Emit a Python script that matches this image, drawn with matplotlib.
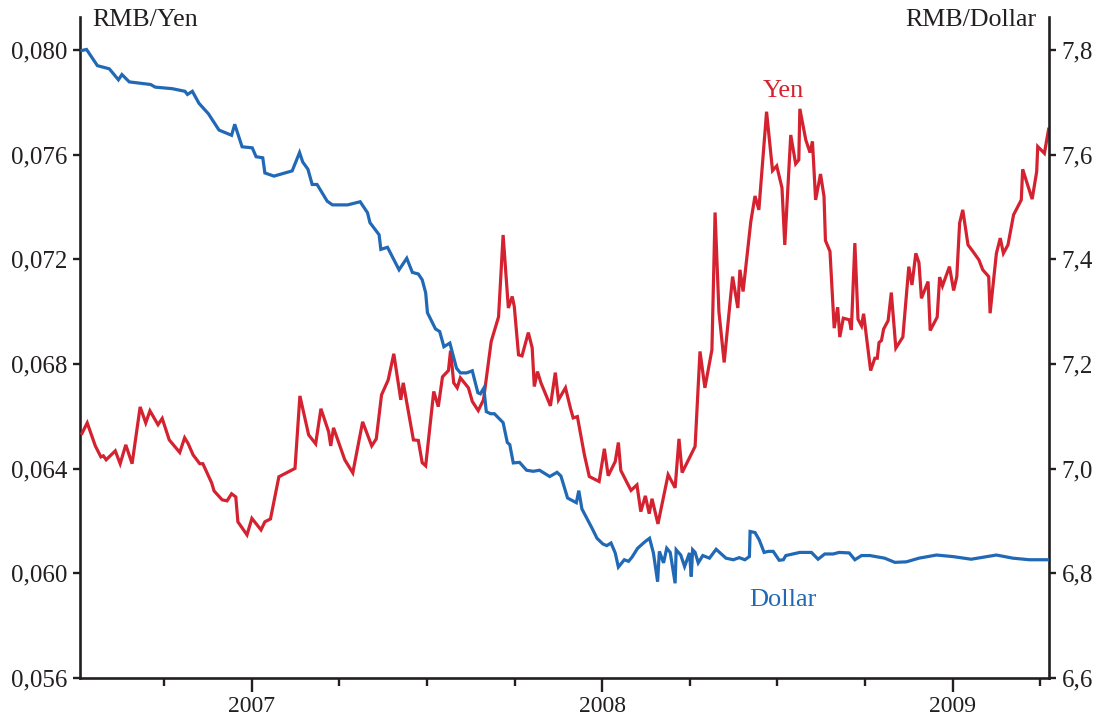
import matplotlib
matplotlib.use("Agg")
import matplotlib.pyplot as plt
from matplotlib.ticker import FixedLocator

# ---- data (decimal years, RMB per yen / RMB per dollar) ----
yen_t = [2006.515, 2006.530, 2006.553, 2006.569, 2006.576, 2006.584, 2006.610, 2006.624, 2006.640, 2006.658,
         2006.681, 2006.697, 2006.709, 2006.732, 2006.744, 2006.764, 2006.794, 2006.808, 2006.818, 2006.832,
         2006.851, 2006.860, 2006.885, 2006.892, 2006.915, 2006.929, 2006.942, 2006.954, 2006.960, 2006.986,
         2007.000, 2007.026, 2007.037, 2007.053, 2007.077, 2007.123, 2007.137, 2007.162, 2007.182, 2007.197,
         2007.219, 2007.225, 2007.233, 2007.265, 2007.288, 2007.316, 2007.342, 2007.355, 2007.370, 2007.389,
         2007.405, 2007.425, 2007.432, 2007.461, 2007.475, 2007.486, 2007.496, 2007.519, 2007.532, 2007.544,
         2007.561, 2007.567, 2007.576, 2007.586, 2007.595, 2007.618, 2007.629, 2007.646, 2007.661, 2007.683,
         2007.704, 2007.717, 2007.732, 2007.743, 2007.749, 2007.761, 2007.771, 2007.789, 2007.800, 2007.806,
         2007.815, 2007.825, 2007.852, 2007.866, 2007.875, 2007.895, 2007.909, 2007.917, 2007.929, 2007.949,
         2007.963, 2007.991, 2008.006, 2008.017, 2008.037, 2008.046, 2008.053, 2008.082, 2008.099, 2008.110,
         2008.123, 2008.134, 2008.142, 2008.159, 2008.188, 2008.208, 2008.219, 2008.228, 2008.265, 2008.279,
         2008.293, 2008.313, 2008.322, 2008.333, 2008.348, 2008.372, 2008.387, 2008.393, 2008.402, 2008.424,
         2008.436, 2008.447, 2008.469, 2008.486, 2008.498, 2008.513, 2008.521, 2008.538, 2008.552, 2008.561,
         2008.564, 2008.581, 2008.593, 2008.600, 2008.609, 2008.623, 2008.633, 2008.637, 2008.650, 2008.662,
         2008.672, 2008.678, 2008.688, 2008.705, 2008.711, 2008.721, 2008.730, 2008.740, 2008.746, 2008.766,
         2008.778, 2008.785, 2008.790, 2008.797, 2008.803, 2008.816, 2008.825, 2008.838, 2008.858, 2008.875,
         2008.884, 2008.895, 2008.904, 2008.911, 2008.930, 2008.936, 2008.956, 2008.963, 2008.971, 2008.991,
         2009.003, 2009.012, 2009.020, 2009.029, 2009.044, 2009.058, 2009.075, 2009.086, 2009.103, 2009.107,
         2009.125, 2009.136, 2009.145, 2009.158, 2009.174, 2009.196, 2009.200, 2009.227, 2009.240, 2009.243,
         2009.262, 2009.274]
yen_v = [0.06535, 0.06575, 0.06487, 0.06445, 0.06449, 0.06434, 0.06468, 0.06419, 0.06491, 0.06419,
         0.06636, 0.06575, 0.06621, 0.06568, 0.06592, 0.06510, 0.06462, 0.06518, 0.06496, 0.06453,
         0.06419, 0.06419, 0.06346, 0.06315, 0.06281, 0.06277, 0.06304, 0.06292, 0.06197, 0.06147,
         0.06210, 0.06166, 0.06197, 0.06208, 0.06369, 0.06401, 0.06678, 0.06529, 0.06495, 0.06629,
         0.06541, 0.06487, 0.06556, 0.06434, 0.06384, 0.06579, 0.06487, 0.06514, 0.06682, 0.06739,
         0.06839, 0.06663, 0.06728, 0.06510, 0.06508, 0.06423, 0.06411, 0.06695, 0.06637, 0.06751,
         0.06775, 0.06851, 0.06728, 0.06709, 0.06747, 0.06709, 0.06657, 0.06622, 0.06663, 0.06886,
         0.06980, 0.07293, 0.07014, 0.07058, 0.07019, 0.06835, 0.06831, 0.06920, 0.06862, 0.06714,
         0.06771, 0.06728, 0.06640, 0.06767, 0.06663, 0.06709, 0.06632, 0.06594, 0.06599, 0.06453,
         0.06370, 0.06351, 0.06476, 0.06373, 0.06427, 0.06500, 0.06393, 0.06317, 0.06338, 0.06236,
         0.06296, 0.06228, 0.06285, 0.06189, 0.06377, 0.06327, 0.06514, 0.06385, 0.06485, 0.06848,
         0.06709, 0.06854, 0.07379, 0.07000, 0.06806, 0.07134, 0.07014, 0.07160, 0.07077, 0.07344,
         0.07442, 0.07389, 0.07764, 0.07539, 0.07557, 0.07473, 0.07255, 0.07675, 0.07565, 0.07580,
         0.07775, 0.07656, 0.07608, 0.07650, 0.07427, 0.07526, 0.07440, 0.07272, 0.07230, 0.06937,
         0.07017, 0.06903, 0.06975, 0.06969, 0.06930, 0.07262, 0.06971, 0.06946, 0.06992, 0.06775,
         0.06822, 0.06822, 0.06882, 0.06890, 0.06933, 0.06966, 0.07073, 0.06861, 0.06903, 0.07172,
         0.07102, 0.07223, 0.07187, 0.07051, 0.07115, 0.06928, 0.06979, 0.07132, 0.07098, 0.07172,
         0.07081, 0.07134, 0.07338, 0.07389, 0.07255, 0.07230, 0.07198, 0.07160, 0.07134, 0.06994,
         0.07223, 0.07281, 0.07223, 0.07255, 0.07370, 0.07427, 0.07544, 0.07430, 0.07535, 0.07631,
         0.07605, 0.07697]

usd_t = [2006.515, 2006.528, 2006.559, 2006.593, 2006.619, 2006.629, 2006.650, 2006.711, 2006.724, 2006.773,
         2006.809, 2006.816, 2006.830, 2006.849, 2006.876, 2006.906, 2006.942, 2006.951, 2006.972, 2007.001,
         2007.012, 2007.031, 2007.037, 2007.063, 2007.115, 2007.136, 2007.145, 2007.160, 2007.172, 2007.186,
         2007.215, 2007.230, 2007.273, 2007.309, 2007.330, 2007.337, 2007.363, 2007.368, 2007.387, 2007.420,
         2007.442, 2007.458, 2007.475, 2007.486, 2007.496, 2007.501, 2007.524, 2007.536, 2007.548, 2007.565,
         2007.584, 2007.595, 2007.613, 2007.629, 2007.645, 2007.652, 2007.662, 2007.669, 2007.681, 2007.692,
         2007.717, 2007.729, 2007.736, 2007.746, 2007.764, 2007.784, 2007.803, 2007.821, 2007.850, 2007.871,
         2007.882, 2007.901, 2007.909, 2007.926, 2007.933, 2007.942, 2007.971, 2007.985, 2008.002, 2008.013,
         2008.025, 2008.037, 2008.046, 2008.063, 2008.075, 2008.085, 2008.101, 2008.123, 2008.135, 2008.146,
         2008.158, 2008.163, 2008.175, 2008.184, 2008.194, 2008.208, 2008.211, 2008.224, 2008.235, 2008.249,
         2008.254, 2008.258, 2008.265, 2008.274, 2008.287, 2008.306, 2008.325, 2008.353, 2008.374, 2008.391,
         2008.407, 2008.420, 2008.422, 2008.436, 2008.448, 2008.462, 2008.474, 2008.488, 2008.505, 2008.517,
         2008.524, 2008.564, 2008.597, 2008.616, 2008.635, 2008.659, 2008.676, 2008.705, 2008.721, 2008.740,
         2008.764, 2008.806, 2008.835, 2008.868, 2008.904, 2008.954, 2009.001, 2009.053, 2009.125, 2009.172,
         2009.219, 2009.274]
usd_v = [7.799, 7.801, 7.770, 7.764, 7.743, 7.753, 7.739, 7.734, 7.729, 7.726,
         7.721, 7.715, 7.721, 7.698, 7.678, 7.647, 7.637, 7.658, 7.615, 7.613,
         7.596, 7.594, 7.565, 7.559, 7.569, 7.604, 7.586, 7.572, 7.543, 7.543,
         7.511, 7.504, 7.504, 7.510, 7.489, 7.470, 7.447, 7.419, 7.423, 7.380,
         7.402, 7.375, 7.372, 7.361, 7.336, 7.298, 7.267, 7.262, 7.233, 7.240,
         7.192, 7.183, 7.183, 7.187, 7.145, 7.143, 7.154, 7.109, 7.105, 7.105,
         7.088, 7.050, 7.046, 7.011, 7.012, 6.997, 6.995, 6.997, 6.985, 6.993,
         6.986, 6.944, 6.941, 6.935, 6.958, 6.923, 6.886, 6.867, 6.856, 6.853,
         6.858, 6.839, 6.812, 6.826, 6.823, 6.831, 6.848, 6.861, 6.867, 6.839,
         6.784, 6.842, 6.820, 6.848, 6.840, 6.781, 6.845, 6.835, 6.813, 6.839,
         6.794, 6.845, 6.840, 6.820, 6.834, 6.829, 6.846, 6.829, 6.826, 6.830,
         6.826, 6.832, 6.880, 6.878, 6.864, 6.840, 6.842, 6.842, 6.825, 6.826,
         6.834, 6.840, 6.840, 6.827, 6.837, 6.837, 6.840, 6.839, 6.826, 6.834,
         6.834, 6.829, 6.821, 6.822, 6.829, 6.835, 6.832, 6.827, 6.835, 6.829,
         6.826, 6.826]

yen_ticks = [0.056, 0.060, 0.064, 0.068, 0.072, 0.076, 0.080]
yen_tick_labels = ["0,056", "0,060", "0,064", "0,068", "0,072", "0,076", "0,080"]
usd_ticks = [6.6, 6.8, 7.0, 7.2, 7.4, 7.6, 7.8]
usd_tick_labels = ["6,6", "6,8", "7,0", "7,2", "7,4", "7,6", "7,8"]
year_ticks = [2007, 2008, 2009]
year_labels = ["2007", "2008", "2009"]
quarter_ticks = [2006.75, 2007.25, 2007.5, 2007.75, 2008.25, 2008.5, 2008.75, 2009.25]

RED = "#d42230"
BLUE = "#2169b5"
INK = "#231f20"
FONT = ["Liberation Serif", "DejaVu Serif"]

plt.rcParams["font.family"] = FONT

fig = plt.figure(figsize=(10.97, 7.2), dpi=100)
ax = fig.add_axes([0.0725, 0.0583, 0.8837, 0.9181])
ax2 = ax.twinx()

ax.plot(yen_t, yen_v, color=RED, lw=2.3, solid_joinstyle="miter", zorder=3)
ax2.plot(usd_t, usd_v, color=BLUE, lw=2.3, solid_joinstyle="miter", zorder=3)

ax.set_xlim(2006.508, 2009.275)
ax.set_ylim(0.056, 0.08126)
ax2.set_ylim(6.6, 7.863)

for a in (ax, ax2):
    a.spines["top"].set_visible(False)
    for s in ("left", "right", "bottom"):
        a.spines[s].set_linewidth(1.9)
        a.spines[s].set_color(INK)
    a.patch.set_visible(False)

ax.spines["right"].set_visible(False)
ax2.spines["left"].set_visible(False)
ax2.spines["bottom"].set_visible(False)

ax.set_yticks(yen_ticks)
ax.set_yticklabels(yen_tick_labels)
ax2.set_yticks(usd_ticks)
ax2.set_yticklabels(usd_tick_labels)

ax.set_xticks(year_ticks)
ax.set_xticklabels(year_labels)
ax.xaxis.set_minor_locator(FixedLocator(quarter_ticks))

ax.tick_params(axis="x", which="major", direction="out", length=10, width=1.7,
               color=INK, labelsize=17, labelcolor=INK, pad=3)
ax.tick_params(axis="x", which="minor", direction="out", length=6, width=1.7, color=INK)
ax.tick_params(axis="y", which="major", direction="out", length=5, width=1.7,
               color=INK, labelsize=18, labelcolor=INK, pad=4)
ax2.tick_params(axis="y", which="major", direction="out", length=5, width=1.7,
                color=INK, labelsize=18, labelcolor=INK, pad=4)

ax.text(0.013, 0.995, "RMB/Yen", transform=ax.transAxes, ha="left", va="center",
        fontsize=18.7, color=INK)
ax.text(0.9876, 0.995, "RMB/Dollar", transform=ax.transAxes, ha="right", va="center",
        fontsize=18.7, color=INK)

ax.text(2008.516, 0.07843, "Yen", ha="center", va="center", fontsize=19, color=RED)
ax.text(2008.516, 0.05899, "Dollar", ha="center", va="center", fontsize=19, color=BLUE)

fig.savefig("out.png", dpi=100)
